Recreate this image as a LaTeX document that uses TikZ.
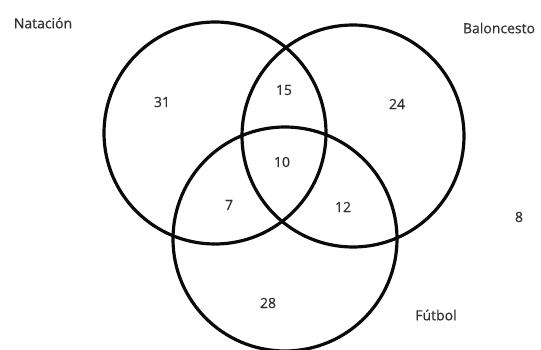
\documentclass[tikz,border=0pt]{standalone}
\usepackage{xcolor}
\usepackage{fontspec}
\setmainfont{Open Sans}
\newfontfamily\vennfont{Open Sans}[FakeBold=0.5]
\usepackage{tikz}
\usetikzlibrary{positioning}
\definecolor{ringBlack}{RGB}{10, 10, 10}
\definecolor{labelGray}{RGB}{50, 50, 50}

\begin{document}
\begin{tikzpicture}[
    x=1pt, y=-1pt,
    setring/.style={
        circle,
        draw=ringBlack,
        line width=3.2pt,
        minimum size=222pt,
        inner sep=0pt
    },
    setname/.style={
        font=\vennfont\fontsize{14}{16}\selectfont,
        text=labelGray,
        inner sep=0pt
    },
    count/.style={
        font=\vennfont\fontsize{14}{16}\selectfont,
        text=labelGray,
        inner sep=0pt
    }
]

% Canvas
\useasboundingbox (0,0) rectangle (541,350);
\fill[white] (0,0) rectangle (541,350);

% Sets
\node[setring] (nat) at (215,133) {};
\node[setring] (bal) at (353,136) {};
\node[setring, minimum size=224pt] (fut) at (285,239) {};

% Set names
\node[setname] (natname) at (43,23) {Natación};
\node[setname] (balname) at (499,28) {Baloncesto};
\node[setname] (futname) at (436,315) {Fútbol};

% Region counts
\node[count] (onlynat) at (162,102) {31};
\node[count] (natbal) at (284,90) {15};
\node[count] (onlybal) at (397,104) {24};
\node[count] (allthree) at (282,162) {10};
\node[count] (natfut) at (229,205) {7};
\node[count] (balfut) at (343,207) {12};
\node[count] (onlyfut) at (268,303) {28};
\node[count] (outside) at (519,217) {8};

\end{tikzpicture}
\end{document}
